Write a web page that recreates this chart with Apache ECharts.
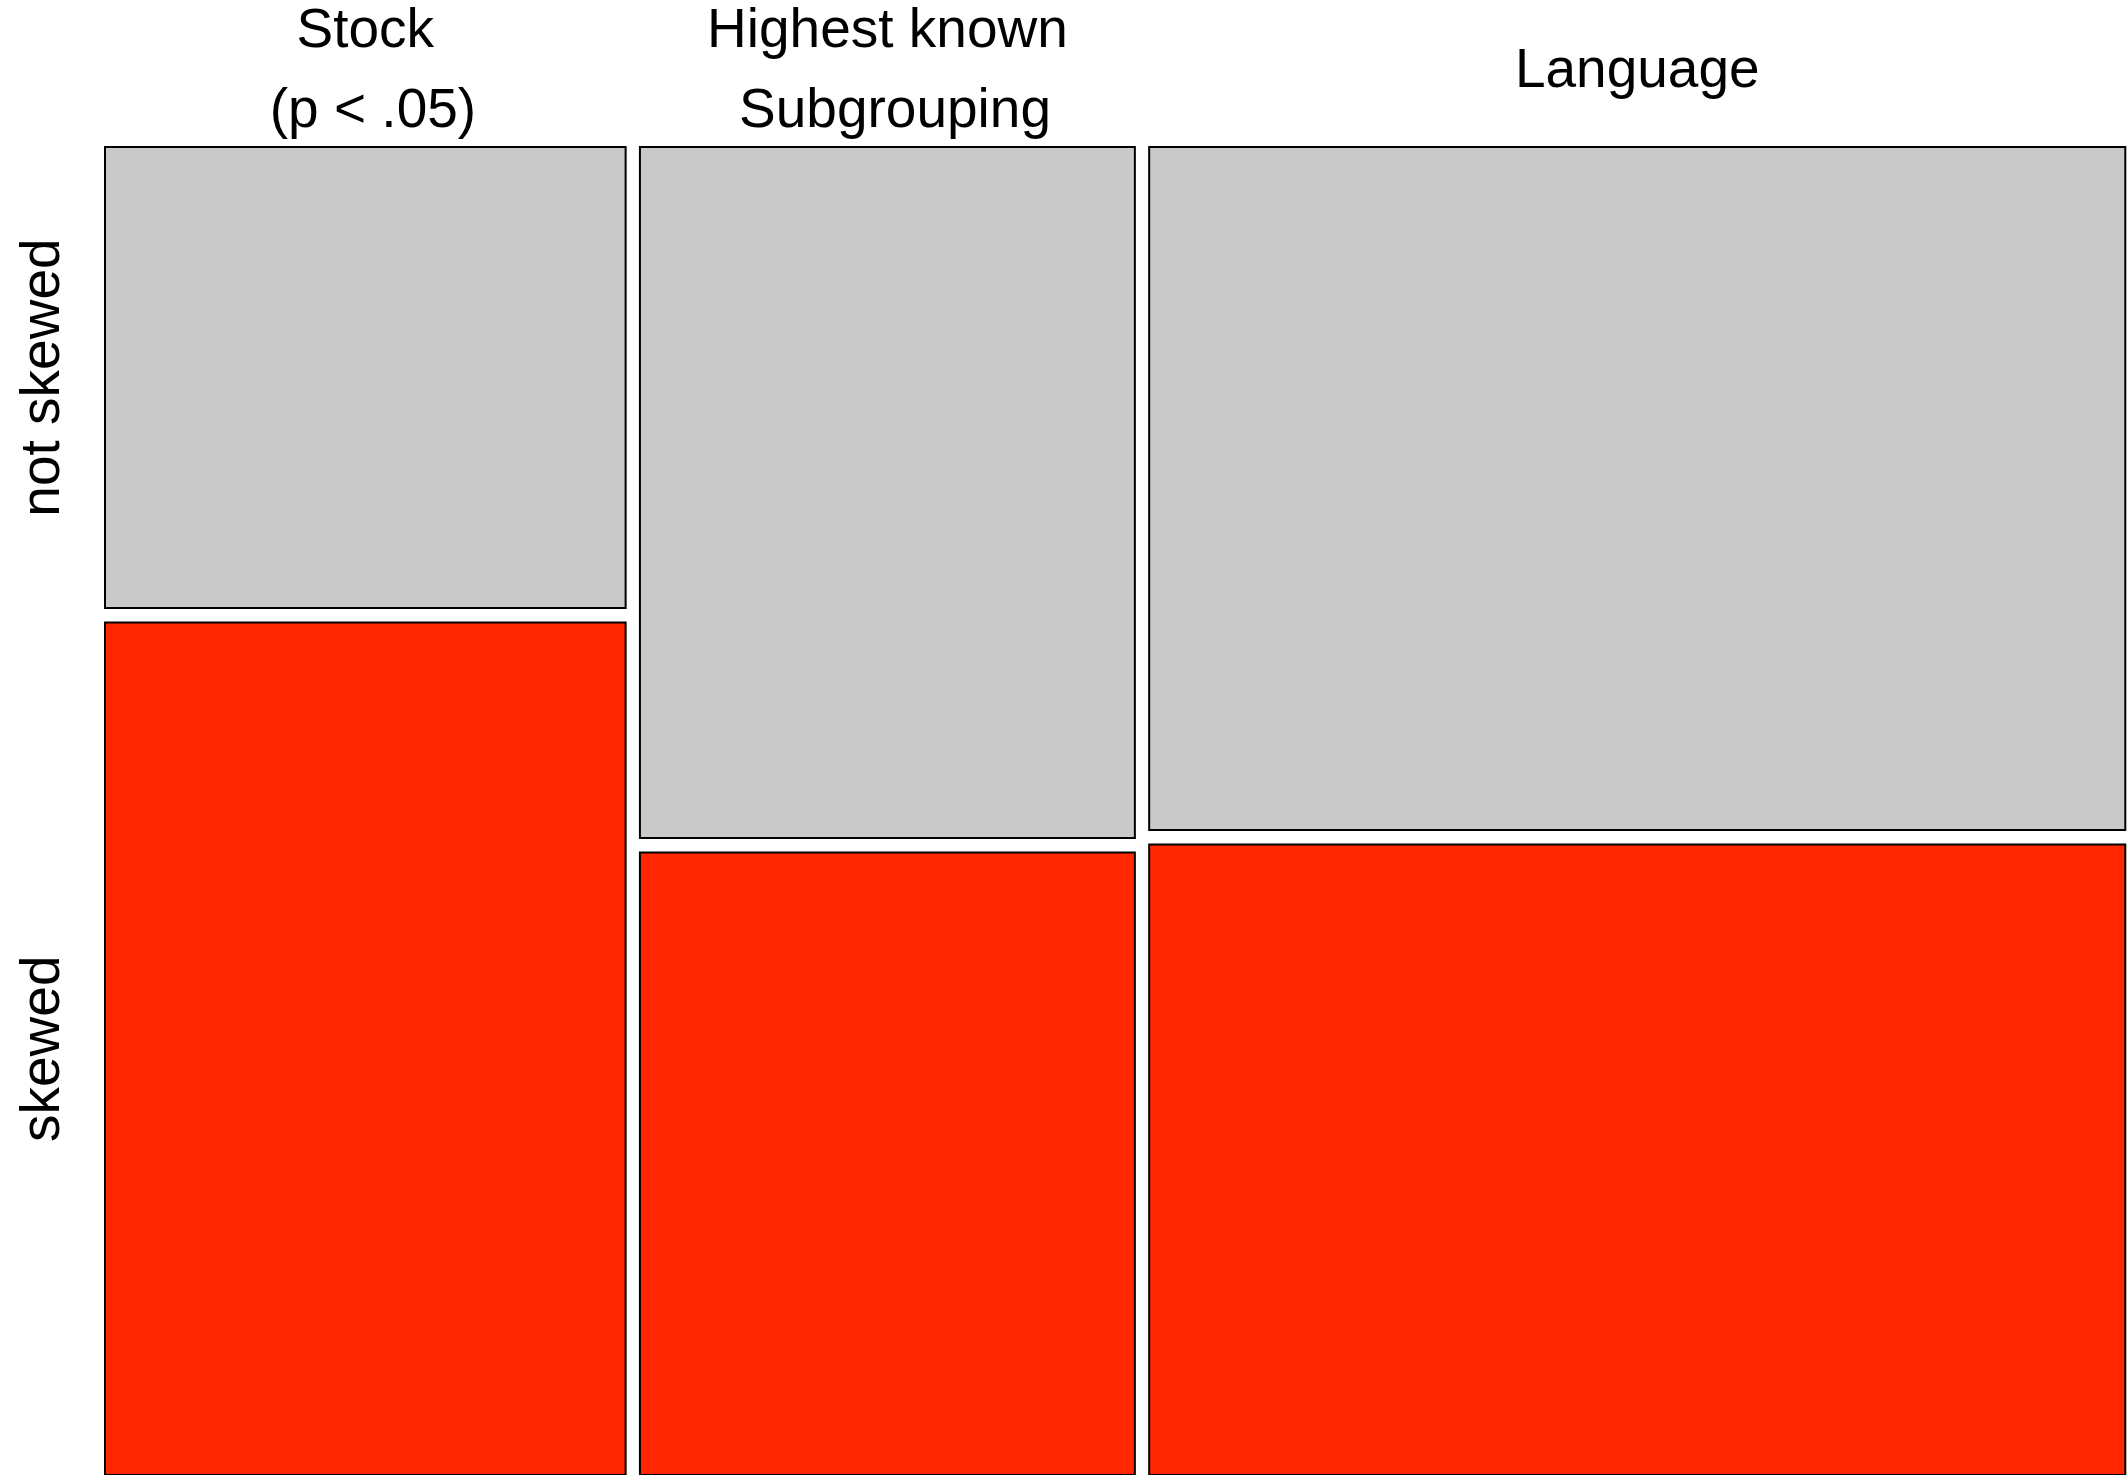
<!DOCTYPE html>
<html>
<head>
<meta charset="utf-8">
<title>Skew by grouping level</title>
<script src="https://cdn.jsdelivr.net/npm/echarts@6/dist/echarts.min.js"></script>
<style>
  html, body { margin: 0; padding: 0; background: #ffffff; }
  #chart { width: 2127px; height: 1475px; }
</style>
</head>
<body>
<div id="chart"></div>
<script>
// Column headings (one entry per line of text)
const columnLabels = [
  ['Stock', ' (p < .05)'],
  ['Highest known', ' Subgrouping'],
  ['Language']
];
// Row labels, top to bottom
const rowLabels = ['not skewed', 'skewed'];
// Share of all cases falling in each column (tile widths)
const columnShare = [0.2614, 0.2485, 0.4901];
// Within each column, share of cases that are not skewed (upper tile)
const notSkewedShare = [0.351, 0.526, 0.520];

const tileColors = ['#c9c9c9', '#ff2600'];
const fontFamily = '"Liberation Sans", Arial, Helvetica, sans-serif';

// Spacing between tiles, in axis units
const gapX = 0.00718;
const gapY = 0.01102;

const shareTotal = columnShare.reduce((a, b) => a + b, 0);
const widths = columnShare.map(v => v / shareTotal);
const starts = [];
widths.reduce((acc, w, i) => { starts.push(acc + i * gapX); return acc + w; }, 0);

const chart = echarts.init(document.getElementById('chart'), null, { renderer: 'canvas' });

function renderTile(params, api) {
  const i = api.value(0);
  const x0 = starts[i];
  const x1 = x0 + widths[i];
  const p = api.value(1);

  const a = api.coord([x0, 0]);
  const b = api.coord([x1, p]);
  const c = api.coord([x0, p + gapY]);
  const d = api.coord([x1, 1 + gapY]);

  const children = [
    {
      type: 'rect',
      shape: { x: a[0], y: a[1], width: b[0] - a[0], height: b[1] - a[1] },
      style: { fill: tileColors[0], stroke: '#000', lineWidth: 2 }
    },
    {
      type: 'rect',
      shape: { x: c[0], y: c[1], width: d[0] - c[0], height: d[1] - c[1] },
      style: { fill: tileColors[1], stroke: '#000', lineWidth: 2 }
    }
  ];

  // Column heading above the tiles
  const cx = (a[0] + b[0]) / 2;
  const lines = columnLabels[i];
  const baseY = a[1];
  const lineYs = lines.length === 2 ? [baseY - 115, baseY - 35] : [baseY - 75];
  lines.forEach((txt, k) => {
    children.push({
      type: 'text',
      style: {
        text: txt, x: cx, y: lineYs[k],
        align: 'center', verticalAlign: 'middle',
        font: '55px ' + fontFamily, fill: '#000'
      }
    });
  });

  // Row labels sit beside the first column's tiles
  if (i === 0) {
    const centers = [(a[1] + b[1]) / 2, (c[1] + d[1]) / 2];
    rowLabels.forEach((txt, k) => {
      children.push({
        type: 'text',
        x: 44, y: centers[k], rotation: Math.PI / 2,
        style: {
          text: txt, x: 0, y: 0,
          align: 'center', verticalAlign: 'middle',
          font: '55px ' + fontFamily, fill: '#000'
        }
      });
    });
  }

  return { type: 'group', children: children };
}

chart.setOption({
  animation: false,
  backgroundColor: '#ffffff',
  grid: { left: 105, right: 1.7, top: 147, bottom: -2 },
  xAxis: { type: 'value', min: 0, max: 1 + 2 * gapX, show: false },
  yAxis: { type: 'value', min: 0, max: 1 + gapY, inverse: true, show: false },
  series: [{
    type: 'custom',
    clip: false,
    renderItem: renderTile,
    data: notSkewedShare.map((p, i) => [i, p])
  }]
});
</script>
</body>
</html>
